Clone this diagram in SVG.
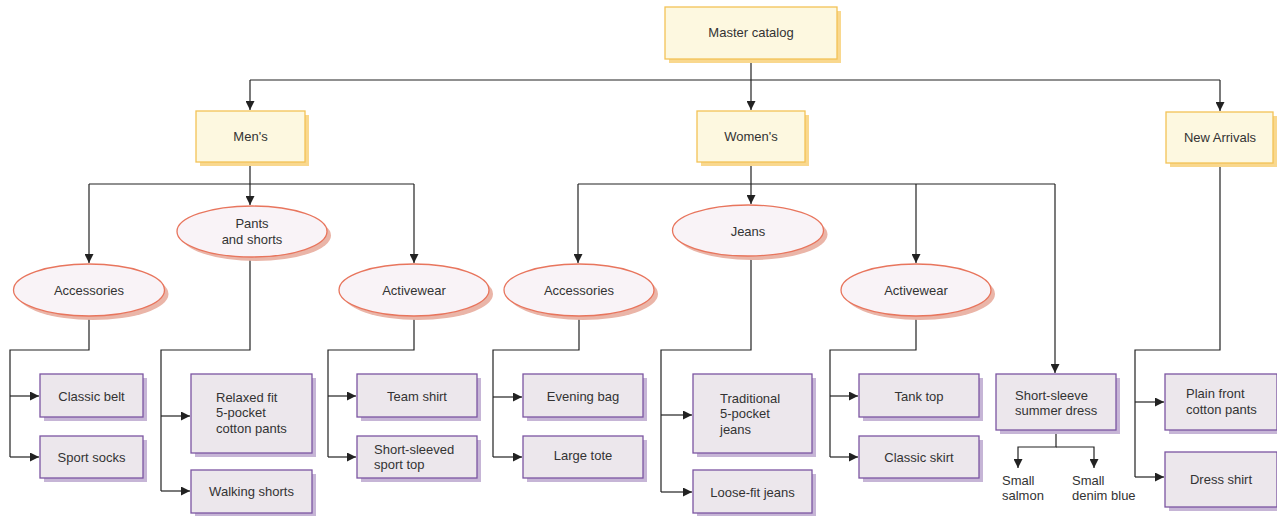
<svg xmlns="http://www.w3.org/2000/svg" width="1277" height="516" viewBox="0 0 1277 516">
  <style>
    text { font-family: "Liberation Sans", Arial, sans-serif; font-size: 13px; fill: #333; }
    .c { text-anchor: middle; }
    .cat { fill: #fdf8e0; stroke: #f3c256; stroke-width: 1.3; }
    .cat-sh { fill: #f9d88e; }
    .grp { fill: #f9f3f7; stroke: #e8755d; stroke-width: 1.3; }
    .grp-sh { fill: #eab5a8; }
    .item { fill: #ece7ec; stroke: #7c55a2; stroke-width: 1.3; }
    .item-sh { fill: #c6b5d6; }
    .wire { fill: none; stroke: #222; stroke-width: 1.2; }
  </style>
  <defs>
    <marker id="arrow" viewBox="0 0 10 10" refX="10" refY="5" markerWidth="9" markerHeight="9" markerUnits="userSpaceOnUse" orient="auto">
      <path d="M0,0 L10,5 L0,10 z" fill="#222"/>
    </marker>
  </defs>

  <!-- connectors -->
  <g id="connectors" class="wire">
    <!-- master to top categories -->
    <path d="M751,59 V80"/>
    <path d="M250,80 H1220"/>
    <path d="M250,80 V110" marker-end="url(#arrow)"/>
    <path d="M751,80 V110" marker-end="url(#arrow)"/>
    <path d="M1220,80 V111" marker-end="url(#arrow)"/>
    <!-- men's -->
    <path d="M250,162 V184 M89,184 H414"/>
    <path d="M89,184 V263" marker-end="url(#arrow)"/>
    <path d="M250,184 V205" marker-end="url(#arrow)"/>
    <path d="M414,184 V263" marker-end="url(#arrow)"/>
    <!-- women's -->
    <path d="M751,162 V184 M578,184 H1055"/>
    <path d="M578,184 V263" marker-end="url(#arrow)"/>
    <path d="M751,184 V204" marker-end="url(#arrow)"/>
    <path d="M916,184 V263" marker-end="url(#arrow)"/>
    <path d="M1055,184 V373" marker-end="url(#arrow)"/>
    <!-- men's accessories -->
    <path d="M89,316 V350 H10 V457"/>
    <path d="M10,396 H39" marker-end="url(#arrow)"/>
    <path d="M10,457 H39" marker-end="url(#arrow)"/>
    <!-- pants and shorts -->
    <path d="M250,257 V350 H161 V491"/>
    <path d="M161,416 H190" marker-end="url(#arrow)"/>
    <path d="M161,491 H190" marker-end="url(#arrow)"/>
    <!-- men's activewear -->
    <path d="M414,316 V350 H328 V457"/>
    <path d="M328,396 H356" marker-end="url(#arrow)"/>
    <path d="M328,457 H356" marker-end="url(#arrow)"/>
    <!-- women's accessories -->
    <path d="M579,316 V350 H493 V457"/>
    <path d="M493,397 H522" marker-end="url(#arrow)"/>
    <path d="M493,457 H522" marker-end="url(#arrow)"/>
    <!-- jeans -->
    <path d="M751,256 V350 H661 V492"/>
    <path d="M661,415 H692" marker-end="url(#arrow)"/>
    <path d="M661,492 H692" marker-end="url(#arrow)"/>
    <!-- women's activewear -->
    <path d="M916,316 V350 H830 V457"/>
    <path d="M830,396 H858" marker-end="url(#arrow)"/>
    <path d="M830,457 H858" marker-end="url(#arrow)"/>
    <!-- summer dress colours -->
    <path d="M1056,430 V447 H1018 V468" marker-end="url(#arrow)"/>
    <path d="M1056,447 H1094 V468" marker-end="url(#arrow)"/>
    <!-- new arrivals -->
    <path d="M1220,163 V350 H1135 V477"/>
    <path d="M1135,402 H1164" marker-end="url(#arrow)"/>
    <path d="M1135,477 H1164" marker-end="url(#arrow)"/>
  </g>

  <!-- catalog level -->
  <g id="master-catalog">
    <rect class="cat-sh" x="669" y="11" width="172" height="52"/>
    <rect class="cat" x="665" y="7" width="172" height="52"/>
    <text class="c" x="751" y="37">Master catalog</text>
  </g>
  <g id="mens">
    <rect class="cat-sh" x="200" y="115" width="109" height="51"/>
    <rect class="cat" x="196" y="111" width="109" height="51"/>
    <text class="c" x="250.5" y="141">Men's</text>
  </g>
  <g id="womens">
    <rect class="cat-sh" x="701" y="115" width="108" height="51"/>
    <rect class="cat" x="697" y="111" width="108" height="51"/>
    <text class="c" x="751" y="141">Women's</text>
  </g>
  <g id="new-arrivals">
    <rect class="cat-sh" x="1170" y="116" width="107" height="51"/>
    <rect class="cat" x="1166" y="112" width="107" height="51"/>
    <text class="c" x="1220" y="142">New Arrivals</text>
  </g>

  <!-- product groups -->
  <g id="mens-accessories">
    <ellipse class="grp-sh" cx="93" cy="294" rx="75.5" ry="26"/>
    <ellipse class="grp" cx="89" cy="290" rx="75.5" ry="26"/>
    <text class="c" x="89" y="295">Accessories</text>
  </g>
  <g id="pants-and-shorts">
    <ellipse class="grp-sh" cx="256" cy="235.5" rx="75" ry="25.5"/>
    <ellipse class="grp" cx="252" cy="231.5" rx="75" ry="25.5"/>
    <text class="c" x="252" y="228">Pants</text>
    <text class="c" x="252" y="244">and shorts</text>
  </g>
  <g id="mens-activewear">
    <ellipse class="grp-sh" cx="418" cy="294" rx="75" ry="26"/>
    <ellipse class="grp" cx="414" cy="290" rx="75" ry="26"/>
    <text class="c" x="414" y="295">Activewear</text>
  </g>
  <g id="womens-accessories">
    <ellipse class="grp-sh" cx="583" cy="294" rx="75" ry="26"/>
    <ellipse class="grp" cx="579" cy="290" rx="75" ry="26"/>
    <text class="c" x="579" y="295">Accessories</text>
  </g>
  <g id="jeans">
    <ellipse class="grp-sh" cx="752" cy="234.5" rx="75.5" ry="25.5"/>
    <ellipse class="grp" cx="748" cy="230.5" rx="75.5" ry="25.5"/>
    <text class="c" x="748" y="236">Jeans</text>
  </g>
  <g id="womens-activewear">
    <ellipse class="grp-sh" cx="920" cy="294" rx="75" ry="26"/>
    <ellipse class="grp" cx="916" cy="290" rx="75" ry="26"/>
    <text class="c" x="916" y="295">Activewear</text>
  </g>

  <!-- items -->
  <g id="classic-belt">
    <rect class="item-sh" x="44" y="378" width="103" height="43"/>
    <rect class="item" x="40" y="374" width="103" height="43"/>
    <text class="c" x="91.5" y="401">Classic belt</text>
  </g>
  <g id="sport-socks">
    <rect class="item-sh" x="44" y="440" width="103" height="42"/>
    <rect class="item" x="40" y="436" width="103" height="42"/>
    <text class="c" x="91.5" y="462">Sport socks</text>
  </g>
  <g id="relaxed-fit">
    <rect class="item-sh" x="195" y="378" width="121" height="79"/>
    <rect class="item" x="191" y="374" width="121" height="79"/>
    <text x="216" y="402">Relaxed fit</text>
    <text x="216" y="417">5-pocket</text>
    <text x="216" y="433">cotton pants</text>
  </g>
  <g id="walking-shorts">
    <rect class="item-sh" x="195" y="474" width="121" height="43"/>
    <rect class="item" x="191" y="470" width="121" height="43"/>
    <text class="c" x="251.5" y="496">Walking shorts</text>
  </g>
  <g id="team-shirt">
    <rect class="item-sh" x="361" y="378" width="120" height="43"/>
    <rect class="item" x="357" y="374" width="120" height="43"/>
    <text class="c" x="417" y="401">Team shirt</text>
  </g>
  <g id="short-sleeved-sport-top">
    <rect class="item-sh" x="361" y="440" width="120" height="42"/>
    <rect class="item" x="357" y="436" width="120" height="42"/>
    <text x="374" y="454">Short-sleeved</text>
    <text x="374" y="469">sport top</text>
  </g>
  <g id="evening-bag">
    <rect class="item-sh" x="527" y="378" width="120" height="43"/>
    <rect class="item" x="523" y="374" width="120" height="43"/>
    <text class="c" x="583" y="401">Evening bag</text>
  </g>
  <g id="large-tote">
    <rect class="item-sh" x="527" y="440" width="120" height="42"/>
    <rect class="item" x="523" y="436" width="120" height="42"/>
    <text class="c" x="583" y="460">Large tote</text>
  </g>
  <g id="traditional-jeans">
    <rect class="item-sh" x="697" y="378" width="119" height="79"/>
    <rect class="item" x="693" y="374" width="119" height="79"/>
    <text x="720" y="403">Traditional</text>
    <text x="720" y="418">5-pocket</text>
    <text x="720" y="434">jeans</text>
  </g>
  <g id="loose-fit-jeans">
    <rect class="item-sh" x="697" y="474" width="119" height="43"/>
    <rect class="item" x="693" y="470" width="119" height="43"/>
    <text class="c" x="752.5" y="497">Loose-fit jeans</text>
  </g>
  <g id="tank-top">
    <rect class="item-sh" x="863" y="378" width="120" height="43"/>
    <rect class="item" x="859" y="374" width="120" height="43"/>
    <text class="c" x="919" y="401">Tank top</text>
  </g>
  <g id="classic-skirt">
    <rect class="item-sh" x="863" y="440" width="120" height="42"/>
    <rect class="item" x="859" y="436" width="120" height="42"/>
    <text class="c" x="919" y="462">Classic skirt</text>
  </g>
  <g id="summer-dress">
    <rect class="item-sh" x="1000" y="378" width="120" height="56"/>
    <rect class="item" x="996" y="374" width="120" height="56"/>
    <text x="1015" y="400">Short-sleeve</text>
    <text x="1015" y="415">summer dress</text>
  </g>
  <g id="small-salmon">
    <text x="1002" y="485">Small</text>
    <text x="1002" y="500">salmon</text>
  </g>
  <g id="small-denim-blue">
    <text x="1072" y="485">Small</text>
    <text x="1072" y="500">denim blue</text>
  </g>
  <g id="plain-front-pants">
    <rect class="item-sh" x="1169" y="378" width="112" height="56"/>
    <rect class="item" x="1165" y="374" width="112" height="56"/>
    <text x="1186" y="398">Plain front</text>
    <text x="1186" y="414">cotton pants</text>
  </g>
  <g id="dress-shirt">
    <rect class="item-sh" x="1169" y="456" width="112" height="55"/>
    <rect class="item" x="1165" y="452" width="112" height="55"/>
    <text class="c" x="1221" y="484">Dress shirt</text>
  </g>
</svg>
